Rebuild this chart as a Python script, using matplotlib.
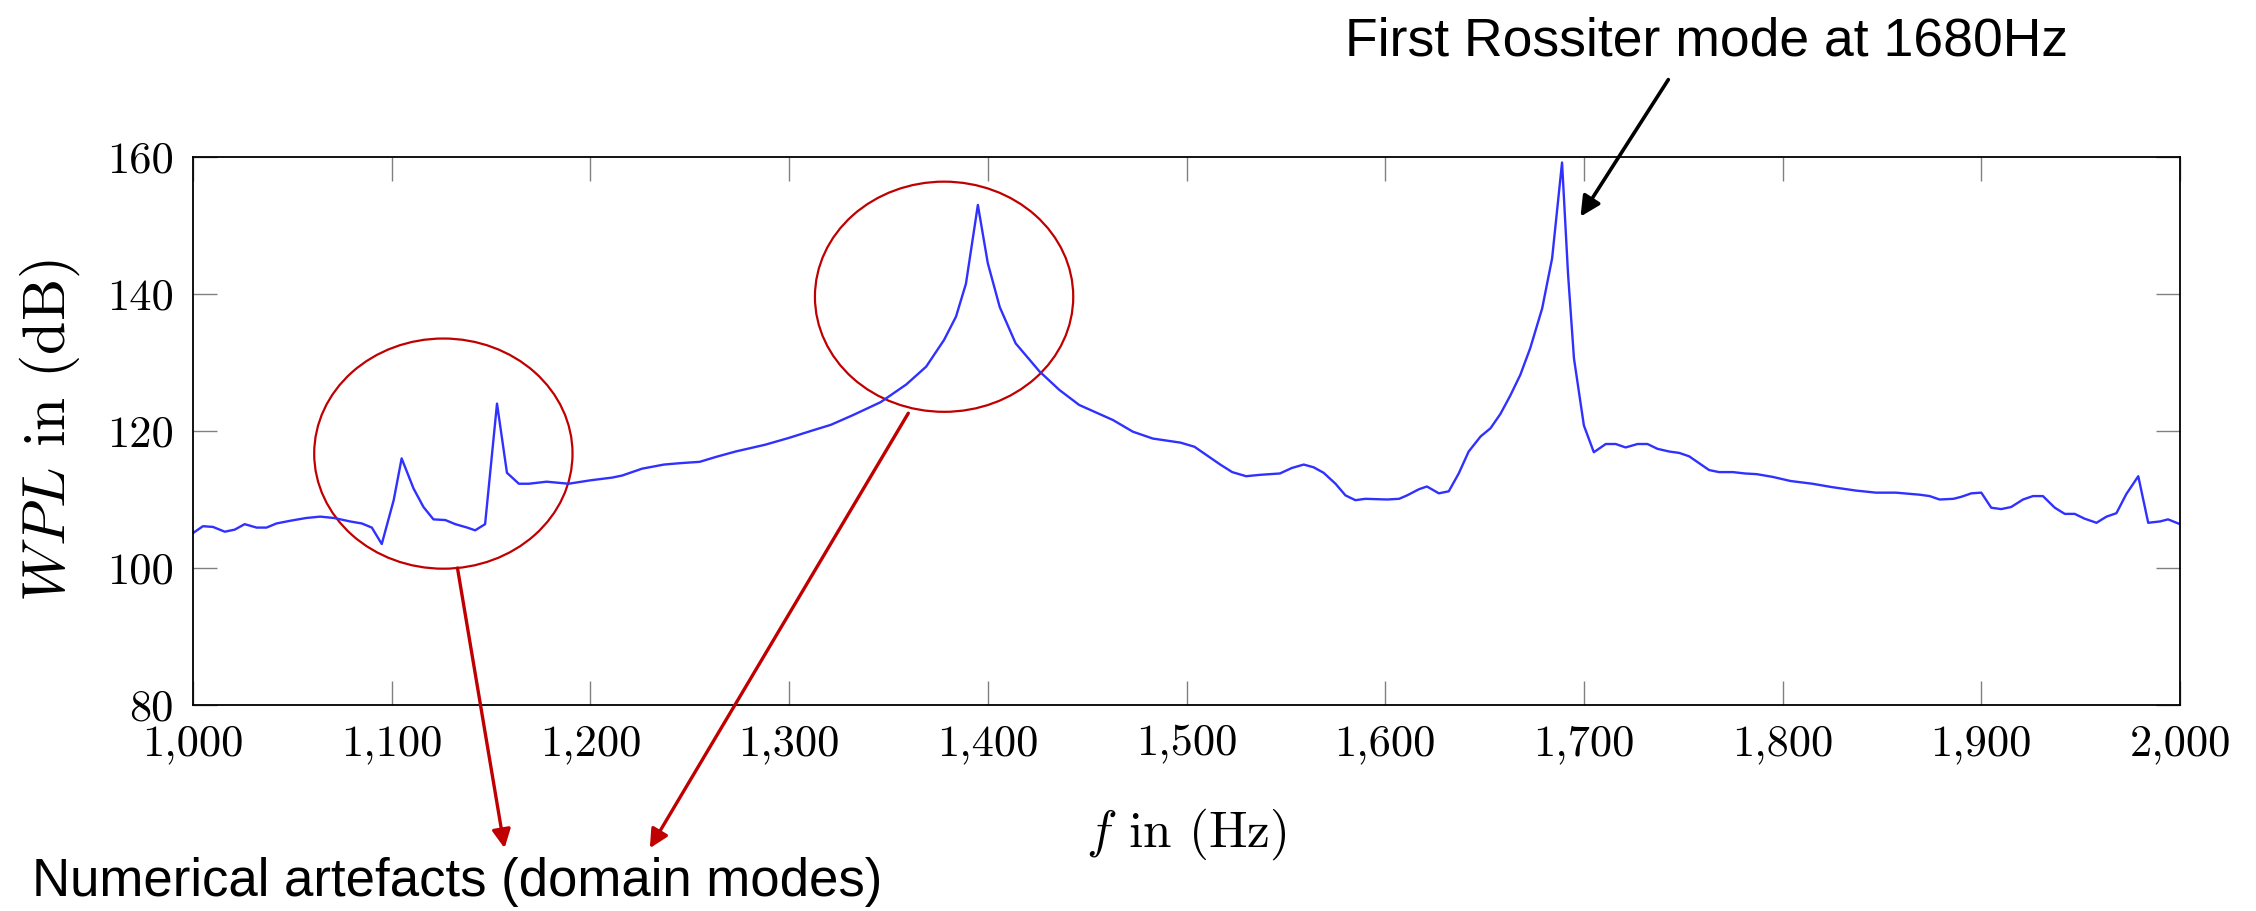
import matplotlib
matplotlib.use("Agg")
import matplotlib.pyplot as plt
from matplotlib.patches import Ellipse
from matplotlib.ticker import FuncFormatter, MultipleLocator

plt.rcParams['font.family'] = 'serif'
plt.rcParams['font.serif'] = ['cmr10']
plt.rcParams['mathtext.fontset'] = 'cm'
plt.rcParams['axes.formatter.use_mathtext'] = True

# frequency (Hz) and WPL (dB)
freq = [1000, 1005, 1010, 1016, 1021, 1026, 1032, 1037, 1042, 1049, 1057, 1064,
        1071, 1079, 1085, 1090, 1095, 1101, 1105, 1111, 1116, 1121, 1127, 1132,
        1138, 1142, 1147, 1153, 1158, 1164, 1169, 1178, 1189, 1200, 1211, 1216,
        1226, 1237, 1245, 1255, 1263, 1273, 1288, 1300, 1312, 1321, 1332, 1346,
        1359, 1369, 1378, 1384, 1389, 1395, 1400, 1406, 1414, 1426, 1436, 1446,
        1463, 1473, 1483, 1497, 1504, 1510, 1517, 1523, 1530, 1537, 1547, 1553,
        1559, 1564, 1569, 1575, 1580, 1585, 1590, 1601, 1607, 1611, 1617, 1621,
        1627, 1632, 1637, 1642, 1648, 1653, 1658, 1663, 1668, 1673, 1679, 1684,
        1689, 1692, 1695, 1700, 1705, 1711, 1716, 1721, 1727, 1732, 1737, 1743,
        1748, 1753, 1758, 1763, 1768, 1775, 1781, 1787, 1795, 1804, 1815, 1825,
        1837, 1847, 1857, 1869, 1874, 1879, 1886, 1890, 1895, 1900, 1905, 1910,
        1915, 1921, 1926, 1931, 1937, 1942, 1947, 1952, 1958, 1963, 1968, 1973,
        1979, 1984, 1990, 1994, 2000]
wpl = [105.1, 106.1, 106.0, 105.3, 105.6, 106.4, 105.9, 105.9, 106.5, 106.9, 107.3, 107.5,
       107.3, 106.8, 106.5, 105.9, 103.5, 109.9, 116.0, 111.6, 108.9, 107.1, 107.0, 106.4,
       105.9, 105.5, 106.4, 124.0, 113.9, 112.3, 112.3, 112.6, 112.3, 112.8, 113.2, 113.5,
       114.5, 115.1, 115.3, 115.5, 116.2, 117.0, 118.0, 119.0, 120.1, 120.9, 122.3, 124.2,
       126.8, 129.4, 133.3, 136.7, 141.5, 153.0, 144.5, 138.1, 132.8, 128.7, 126.0, 123.8,
       121.6, 119.9, 118.9, 118.3, 117.7, 116.5, 115.1, 114.0, 113.4, 113.6, 113.8, 114.6,
       115.1, 114.7, 113.9, 112.3, 110.6, 109.9, 110.1, 110.0, 110.1, 110.6, 111.5, 111.9,
       110.9, 111.2, 113.8, 117.0, 119.2, 120.4, 122.5, 125.2, 128.2, 132.1, 137.9, 145.2,
       159.2, 143.0, 130.6, 120.8, 116.9, 118.1, 118.1, 117.6, 118.1, 118.1, 117.4, 117.0,
       116.8, 116.3, 115.3, 114.3, 114.0, 114.0, 113.8, 113.7, 113.3, 112.7, 112.3, 111.8,
       111.3, 111.0, 111.0, 110.7, 110.5, 110.0, 110.1, 110.4, 110.9, 111.0, 108.8, 108.6,
       108.9, 110.0, 110.5, 110.5, 108.8, 107.9, 107.9, 107.2, 106.6, 107.5, 108.0, 110.8,
       113.4, 106.6, 106.8, 107.1, 106.4]

# annotation anchors (data units)
artefact_centres = [(1126, 116.7), (1378, 139.6)]
rossiter_note = "First Rossiter mode at 1680Hz"
artefact_note = "Numerical artefacts (domain modes)"

red = '#c00000'

fig = plt.figure(figsize=(22.56, 9.11), dpi=100)
ax = fig.add_axes([193 / 2256, 1 - 705 / 911, 1987 / 2256, 548 / 911])

ax.plot(freq, wpl, color='#3030ff', lw=1.7)

ax.set_xlim(1000, 2000)
ax.set_ylim(80, 160)
ax.xaxis.set_major_locator(MultipleLocator(100))
ax.yaxis.set_major_locator(MultipleLocator(20))
ax.xaxis.set_major_formatter(FuncFormatter(lambda v, p: f'{v:,.0f}'))
ax.yaxis.set_major_formatter(FuncFormatter(lambda v, p: f'{v:.0f}'))
ax.tick_params(direction='in', length=17, width=1.0, color='#808080',
               labelsize=32, pad=14, top=True, right=True)
for s in ax.spines.values():
    s.set_linewidth(1.3)

ax.set_xlabel(r'$f$ in (Hz)', fontsize=37)
ax.set_ylabel(r'$WPL$ in (dB)', fontsize=43)
ax.xaxis.set_label_coords(0.5, -0.185)
ax.yaxis.set_label_coords(-0.056, 0.501)

for c in artefact_centres:
    ax.add_patch(Ellipse(c, 130, 33.6, fill=False, edgecolor=red, lw=1.6, clip_on=False))

ax.annotate('', xy=(1156.8, 59.1), xytext=(1133.1, 100.0), annotation_clip=False,
            arrowprops=dict(arrowstyle='-|>', color=red, lw=2.4, mutation_scale=28,
                            shrinkA=0, shrinkB=0))
ax.annotate('', xy=(1229.9, 59.1), xytext=(1360, 122.6), annotation_clip=False,
            arrowprops=dict(arrowstyle='-|>', color=red, lw=2.4, mutation_scale=28,
                            shrinkA=0, shrinkB=0))
ax.annotate('', xy=(1698.3, 151.3), xytext=(1742.5, 171.3), annotation_clip=False,
            arrowprops=dict(arrowstyle='-|>', color='black', lw=2.6, mutation_scale=30,
                            shrinkA=0, shrinkB=0))

ax.text(1761.5, 174.8, rossiter_note, family='Liberation Sans', fontsize=38.5,
        ha='center', va='baseline', clip_on=False)
ax.text(919, 52.1, artefact_note, family='Liberation Sans', fontsize=38,
        ha='left', va='baseline', clip_on=False)

fig.savefig('out.png', dpi=100)
